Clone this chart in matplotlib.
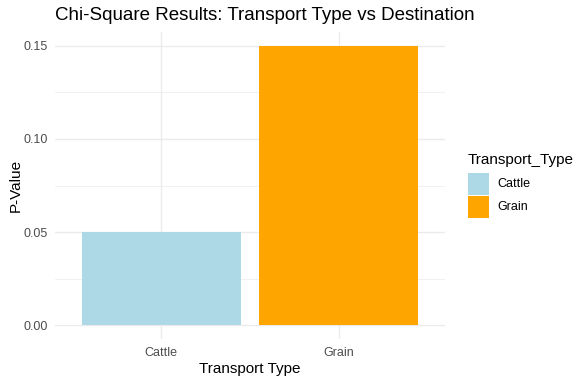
import matplotlib
matplotlib.use("Agg")
import matplotlib.pyplot as plt
from matplotlib.patches import Rectangle
import numpy as np

categories = ["Cattle", "Grain"]
p_values = [0.05, 0.15]
colors = ["#ADD8E6", "#FFA500"]
y_ticks = [0.00, 0.05, 0.10, 0.15]
y_tick_labels = ["0.00", "0.05", "0.10", "0.15"]

plt.rcParams['font.family'] = ['Liberation Sans', 'DejaVu Sans']

W, H = 585, 383
fig = plt.figure(figsize=(W/100, H/100), dpi=100)
L, R, T, B = 55, 445, 32, 339
ax = fig.add_axes([L/W, 1-B/H, (R-L)/W, (B-T)/H])

x = np.arange(1, len(categories)+1)
ax.bar(x, p_values, width=0.9, color=colors, zorder=2)
ax.set_xlim(0.4, 2.6)
ax.set_ylim(-0.0075, 0.1575)

ax.set_yticks(y_ticks)
ax.set_yticklabels(y_tick_labels)
ax.set_yticks([0.025, 0.075, 0.125], minor=True)
ax.set_xticks(x)
ax.set_xticklabels(categories)

ax.grid(True, which='major', color='#ebebeb', linewidth=1.0, zorder=0)
ax.grid(True, which='minor', axis='y', color='#ebebeb', linewidth=0.5, zorder=0)
for s in ax.spines.values():
    s.set_visible(False)
ax.tick_params(which='both', length=0, labelsize=9, labelcolor='#4d4d4d')
ax.tick_params(axis='y', pad=5)
ax.tick_params(axis='x', pad=6)
ax.set_facecolor('white')

ax.set_xlabel("Transport Type", fontsize=11, color='black', labelpad=2)
ax.set_ylabel("P-Value", fontsize=11, color='black', labelpad=1)
fig.text(L/W, 1-15/H, "Chi-Square Results: Transport Type vs Destination",
         fontsize=13.5, color='black', ha='left', va='center')

# legend
fig.text(468/W, 1-160/H, "Transport_Type", fontsize=11, ha='left', va='center')
key_top = 173
for i, cat in enumerate(categories):
    y0 = key_top + i*23
    fig.add_artist(Rectangle((468/W, 1-(y0+21.5)/H), 21/W, 21.5/H,
                             transform=fig.transFigure, facecolor=colors[i], edgecolor='none'))
    fig.text(497/W, 1-(y0+11)/H, cat, fontsize=9, ha='left', va='center')

fig.savefig("out.png", dpi=100)
